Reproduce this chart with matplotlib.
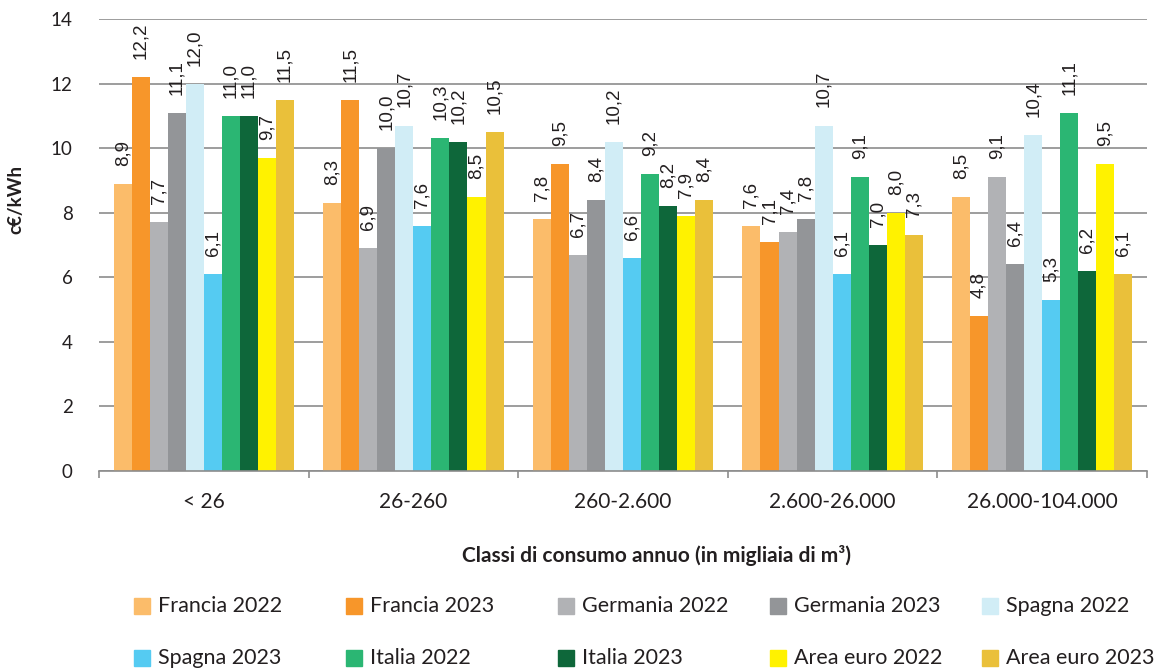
import matplotlib.pyplot as plt
from matplotlib.patches import Rectangle
from matplotlib.ticker import FixedLocator

categories = ['< 26', '26-260', '260-2.600', '2.600-26.000', '26.000-104.000']

series = ['Francia 2022', 'Francia 2023', 'Germania 2022', 'Germania 2023', 'Spagna 2022',
          'Spagna 2023', 'Italia 2022', 'Italia 2023', 'Area euro 2022', 'Area euro 2023']

francia_2022 = [8.9, 8.3, 7.8, 7.6, 8.5]
francia_2023 = [12.2, 11.5, 9.5, 7.1, 4.8]
germania_2022 = [7.7, 6.9, 6.7, 7.4, 9.1]
germania_2023 = [11.1, 10.0, 8.4, 7.8, 6.4]
spagna_2022 = [12.0, 10.7, 10.2, 10.7, 10.4]
spagna_2023 = [6.1, 7.6, 6.6, 6.1, 5.3]
italia_2022 = [11.0, 10.3, 9.2, 9.1, 11.1]
italia_2023 = [11.0, 10.2, 8.2, 7.0, 6.2]
euro_2022 = [9.7, 8.5, 7.9, 8.0, 9.5]
euro_2023 = [11.5, 10.5, 8.4, 7.3, 6.1]

values = [francia_2022, francia_2023, germania_2022, germania_2023, spagna_2022,
          spagna_2023, italia_2022, italia_2023, euro_2022, euro_2023]

colors = ['#FBBC6A', '#F7962A', '#B1B2B5', '#939598', '#D1EDF6',
          '#55CBF2', '#2BB673', '#0E673A', '#FFF200', '#EAC03A']

AX_FONT = 'Lato'
LBL_FONT = 'Liberation Sans'
TXT = '#231F20'
GRID = '#8C8C8C'

fig = plt.figure(figsize=(11.56, 6.68), dpi=100)
ax = fig.add_axes([99 / 1156, 1 - 471 / 668, 1048 / 1156, 452 / 668])

w = 0.086
for i, (name, vals, c) in enumerate(zip(series, values, colors)):
    xs = [g + (i - 4.5) * w for g in range(len(categories))]
    ax.bar(xs, vals, width=w, color=c, zorder=3, label=name)
    for x, v in zip(xs, vals):
        ax.annotate(f'{v:.1f}'.replace('.', ','), (x, v), xytext=(0, 13),
                    textcoords='offset points', rotation=90, ha='center', va='bottom',
                    fontsize=13.5, family=LBL_FONT, color=TXT, annotation_clip=False,
                    zorder=4)

ax.set_xlim(-0.5, len(categories) - 0.5)
ax.set_ylim(0, 14)
ax.set_yticks(range(0, 15, 2))
ax.yaxis.grid(True, color=GRID, linewidth=1.2, zorder=0)
ax.tick_params(axis='y', length=0, pad=19, labelsize=13.5, labelcolor=TXT)

ax.set_xticks(range(len(categories)))
ax.set_xticklabels(categories)
ax.xaxis.set_minor_locator(FixedLocator([g - 0.5 for g in range(len(categories) + 1)]))
ax.tick_params(axis='x', which='major', length=0, pad=15, labelsize=15, labelcolor=TXT)
ax.tick_params(axis='x', which='minor', length=5, width=1.2, color=GRID)

for lbl in ax.get_xticklabels() + ax.get_yticklabels():
    lbl.set_family(AX_FONT)

for s in ['top', 'right', 'left']:
    ax.spines[s].set_visible(False)
ax.spines['bottom'].set_color(GRID)
ax.spines['bottom'].set_linewidth(1.2)
ax.spines['bottom'].set_zorder(5)

ax.set_ylabel('c€/kWh', family=AX_FONT, fontweight='bold', fontsize=13.5, color=TXT)
ax.yaxis.set_label_coords(-0.071, 0.6)

fig.text(656 / 1156, 1 - 555 / 668, 'Classi di consumo annuo (in migliaia di m³)',
         ha='center', va='center', family=AX_FONT, fontweight='bold', fontsize=15, color=TXT)

# legend, laid out row by row like the original
W, H = 1156, 668
for i, (name, c) in enumerate(zip(series, colors)):
    row, col = divmod(i, 5)
    x0 = 134 + 212 * col
    yc = 606 + 52 * row
    fig.patches.append(Rectangle((x0 / W, 1 - (yc + 8) / H), 16 / W, 16 / H,
                                 transform=fig.transFigure, color=c))
    fig.text((x0 + 24) / W, 1 - yc / H, name, ha='left', va='center',
             family=AX_FONT, fontsize=15.5, color=TXT)

fig.savefig('out.png', dpi=100)
